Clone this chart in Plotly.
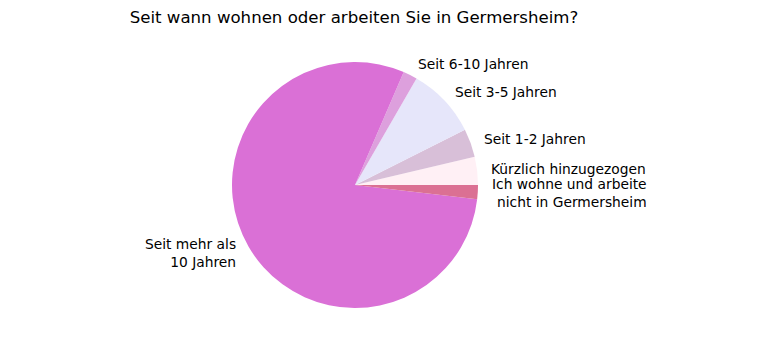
import math
import plotly.graph_objects as go

# Data
labels = ["Kürzlich hinzugezogen", "Seit 1-2 Jahren", "Seit 3-5 Jahren",
          "Seit 6-10 Jahren", "Seit mehr als\n10 Jahren",
          "Ich wohne und arbeite\nnicht in Germersheim"]
values = [2, 2, 5, 1, 43, 1]
colors = ["#fff0f5", "#d8bfd8", "#e6e6fa", "#dda0dd", "#da70d6", "#db7093"]
title = "Seit wann wohnen oder arbeiten Sie in Germersheim?"

W, H = 780, 350
cx, cy, r = 355, 185, 123  # pixel geometry of the pie
FONT = "DejaVu Sans"

total = sum(values)
# plotly's counterclockwise pies end the first slice at `rotation`;
# shift so the first slice starts at 3 o'clock (matplotlib startangle=0)
rotation = 90 - values[0] / total * 360

fig = go.Figure(go.Pie(
    labels=[l.replace("\n", " ") for l in labels],
    values=values,
    marker=dict(colors=colors, line=dict(width=0)),
    sort=False,
    direction="counterclockwise",
    rotation=rotation,
    textinfo="none",
    hoverinfo="label+value",
    showlegend=False,
    domain=dict(x=[(cx - r) / W, (cx + r) / W],
                y=[1 - (cy + r) / H, 1 - (cy - r) / H]),
))

# Labels placed like matplotlib (labeldistance 1.1, at slice mid-angle)
cum = 0
annotations = []
for lab, v in zip(labels, values):
    mid = (cum + v / 2) / total * 2 * math.pi
    cum += v
    px = cx + 1.1 * r * math.cos(mid)
    py = cy - 1.1 * r * math.sin(mid)
    right = math.cos(mid) > 0
    annotations.append(dict(
        x=px / W, y=1 - py / H, xref="paper", yref="paper",
        text=lab.replace("\n", "<br>"), showarrow=False,
        xanchor="left" if right else "right", yanchor="middle",
        align="right",
        font=dict(family=FONT, size=13.8, color="#000000"),
    ))

fig.update_layout(
    width=W, height=H,
    margin=dict(l=0, r=0, t=0, b=0),
    paper_bgcolor="white", plot_bgcolor="white",
    title=dict(text=title, x=354 / W, xanchor="center",
               y=1 - 17 / H, yanchor="middle",
               font=dict(family=FONT, size=16.6, color="#000000")),
    annotations=annotations,
)

fig.write_html("out.html")
